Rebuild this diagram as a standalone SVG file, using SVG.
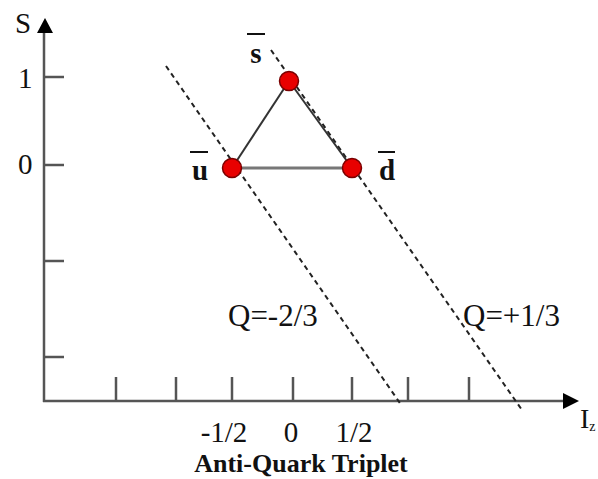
<svg xmlns="http://www.w3.org/2000/svg" width="598" height="479" viewBox="0 0 598 479">
<style>
.axis{stroke:#555;stroke-width:2.5;fill:none}
.tick{stroke:#555;stroke-width:2.5}
.dash{stroke:#222;stroke-width:2;stroke-dasharray:5 4;fill:none}
.edge{stroke:#333;stroke-width:2;fill:none}
.t{font-family:"Liberation Serif","Times New Roman",serif;fill:#111}
.b{font-family:"Liberation Serif","Times New Roman",serif;font-weight:bold;fill:#111}
.bar{stroke:#111;stroke-width:2}
.q{fill:#e80000;stroke:#7a0000;stroke-width:1.5}
</style>
<rect width="598" height="479" fill="#fff"/>
<g id="axes">
<line class="axis" x1="44" y1="32" x2="44" y2="402"/>
<line class="axis" x1="43" y1="401" x2="565" y2="401"/>
<polygon points="45,18 37,33 53,33" fill="#000"/>
<polygon points="579,401 563,393 563,409" fill="#000"/>
<line class="tick" x1="44" y1="77" x2="64" y2="77"/>
<line class="tick" x1="44" y1="165" x2="64" y2="165"/>
<line class="tick" x1="44" y1="261" x2="64" y2="261"/>
<line class="tick" x1="44" y1="357" x2="64" y2="357"/>
<line class="tick" x1="116" y1="377" x2="116" y2="401"/>
<line class="tick" x1="176" y1="377" x2="176" y2="401"/>
<line class="tick" x1="232" y1="377" x2="232" y2="401"/>
<line class="tick" x1="293" y1="377" x2="293" y2="401"/>
<line class="tick" x1="352" y1="377" x2="352" y2="401"/>
<line class="tick" x1="408" y1="377" x2="408" y2="401"/>
<line class="tick" x1="469" y1="377" x2="469" y2="401"/>
<text class="t" x="15" y="33" font-size="29">S</text>
<text class="t" x="18" y="88" font-size="29">1</text>
<text class="t" x="18" y="174" font-size="29">0</text>
<text class="t" x="580" y="428" font-size="28">I<tspan font-size="14" dy="3">z</tspan></text>
<text class="t" x="224" y="442" font-size="29" text-anchor="middle">-1/2</text>
<text class="t" x="291" y="442" font-size="29" text-anchor="middle">0</text>
<text class="t" x="354" y="442" font-size="29" text-anchor="middle">1/2</text>
<text class="b" x="301" y="472" font-size="26" text-anchor="middle">Anti-Quark Triplet</text>
</g>
<g id="connectors">
<line class="dash" x1="166" y1="66" x2="402" y2="406"/>
<line class="dash" x1="271" y1="50" x2="522" y2="410"/>
<line class="edge" x1="232" y1="168" x2="289" y2="81"/>
<line class="edge" x1="289" y1="81" x2="352" y2="168"/>
<line x1="232" y1="168" x2="352" y2="168" stroke="#777" stroke-width="3"/>
<text class="t" x="228" y="326" font-size="31">Q=-2/3</text>
<text class="t" x="463" y="326" font-size="31">Q=+1/3</text>
</g>
<g id="sbar">
<circle class="q" cx="289" cy="81" r="9.5"/>
<line class="bar" x1="247" y1="34" x2="265" y2="34"/>
<text class="b" x="256" y="63" font-size="29" text-anchor="middle">s</text>
</g>
<g id="ubar">
<circle class="q" cx="232" cy="168" r="9.5"/>
<line class="bar" x1="190" y1="152" x2="208" y2="152"/>
<text class="b" x="200" y="180" font-size="29" text-anchor="middle">u</text>
</g>
<g id="dbar">
<circle class="q" cx="352" cy="168" r="9.5"/>
<line class="bar" x1="378" y1="152" x2="395" y2="152"/>
<text class="b" x="387" y="180" font-size="29" text-anchor="middle">d</text>
</g>
</svg>
